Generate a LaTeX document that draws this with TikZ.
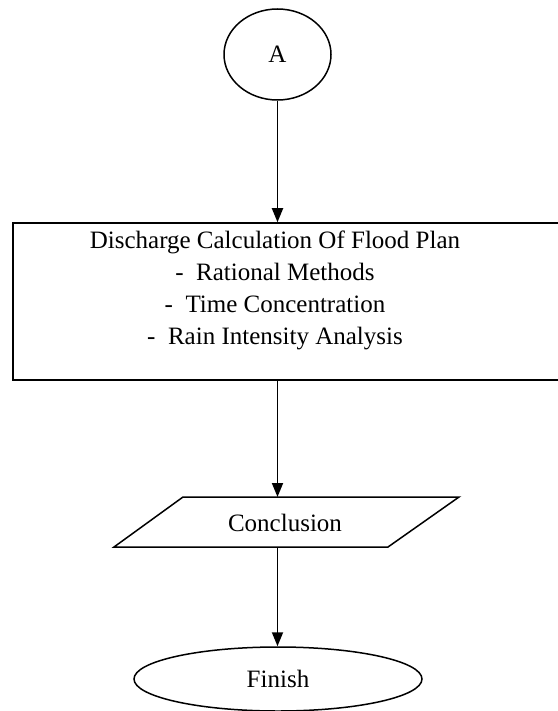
\documentclass[tikz,border=0pt]{standalone}
\usepackage{fontspec}
\setmainfont{Liberation Serif}
\usetikzlibrary{shapes.geometric,arrows.meta}
\begin{document}
\begin{tikzpicture}[x=1pt,y=-1pt,
  every node/.style={font=\fontsize{25}{32}\selectfont},
  shp/.style={draw=black,line width=1.5pt},
  arr/.style={line width=1.8pt,-{Triangle[length=14pt,width=11pt]}}]
\useasboundingbox (0,0) rectangle (557,711);
\fill[white] (0,0) rectangle (557,711);
\node[shp,ellipse,minimum width=107pt,minimum height=91pt,inner sep=0pt] (A) at (277.5,54.5) {A};
\node[shp,rectangle,minimum width=547pt,minimum height=157pt,inner sep=0pt] (box) at (286.5,301.5) {};
\node[align=center,inner sep=0pt] (boxtext) at (275,290) {Discharge Calculation Of Flood Plan\\-\ \ Rational Methods\\-\ \ Time Concentration\\-\ \ Rain Intensity Analysis};
\coordinate (p1) at (114,547);
\coordinate (p2) at (183,497);
\coordinate (p3) at (459,497);
\coordinate (p4) at (388,547);
\draw[shp,line join=miter] (p1) -- (p2) -- (p3) -- (p4) -- cycle;
\node[inner sep=0pt] (concl) at (285,523) {Conclusion};
\node[shp,ellipse,minimum width=288pt,minimum height=64pt,inner sep=0pt] (fin) at (278,679) {Finish};
\draw[arr] (A.south) -- (A.south |- box.north);
\draw[arr] (A.south |- box.south) -- (A.south |- p2);
\draw[arr] (A.south |- p1) -- (A.south |- fin.north);
\end{tikzpicture}
\end{document}
